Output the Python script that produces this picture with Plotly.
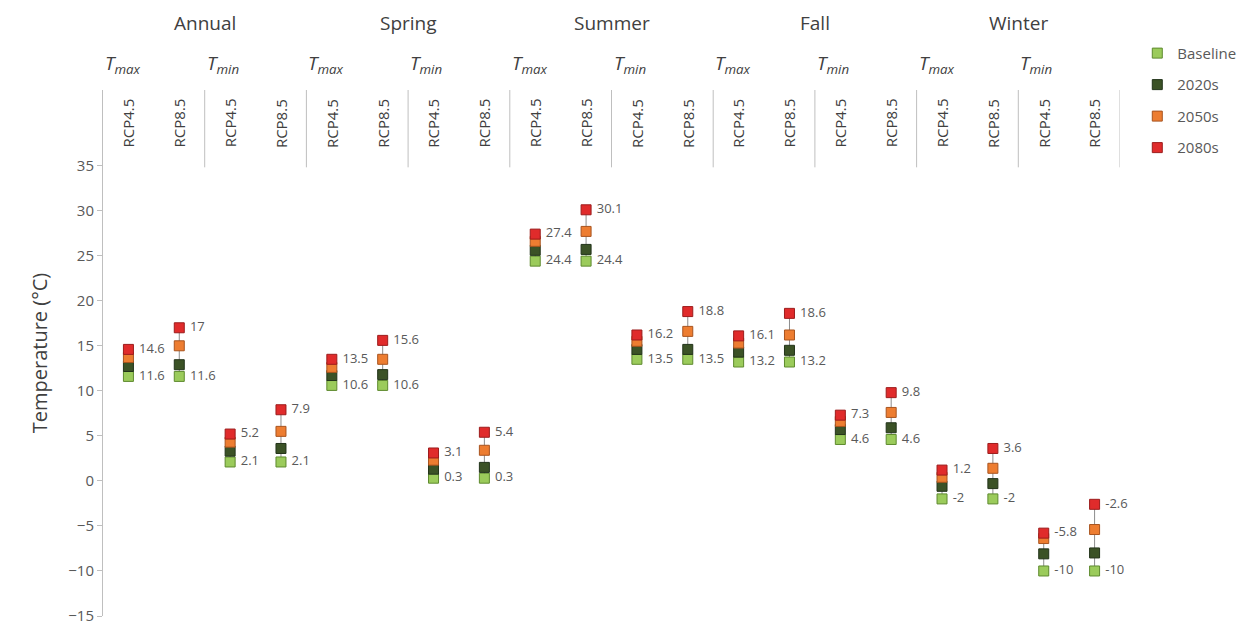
import plotly.graph_objects as go

seasons = ["Annual", "Spring", "Summer", "Fall", "Winter"]
variables = ["<i>T<sub>max</sub></i>", "<i>T<sub>min</sub></i>"]
scenarios = ["RCP4.5", "RCP8.5"]

baseline = [11.6, 11.6, 2.1, 2.1, 10.6, 10.6, 0.3, 0.3, 24.4, 24.4,
            13.5, 13.5, 13.2, 13.2, 4.6, 4.6, -2, -2, -10, -10]
y2020s = [12.7, 12.9, 3.3, 3.6, 11.7, 11.8, 1.3, 1.5, 25.6, 25.7,
          14.6, 14.6, 14.3, 14.5, 5.7, 5.9, -0.6, -0.3, -8.1, -8.0]
y2050s = [13.7, 15.0, 4.3, 5.5, 12.6, 13.5, 2.3, 3.4, 26.6, 27.7,
          15.5, 16.6, 15.3, 16.2, 6.6, 7.6, 0.4, 1.4, -6.4, -5.4]
y2080s = [14.6, 17, 5.2, 7.9, 13.5, 15.6, 3.1, 5.4, 27.4, 30.1,
          16.2, 18.8, 16.1, 18.6, 7.3, 9.8, 1.2, 3.6, -5.8, -2.6]

series_names = ["Baseline", "2020s", "2050s", "2080s"]
fill_colors = ["#9BCB5B", "#3B5226", "#ED7D31", "#E02B2B"]
line_colors = ["#5E8A2E", "#22331A", "#A8541F", "#9C1C1C"]

n = len(baseline)
cols = list(range(n))

def fmt(v):
    return " %g" % v

fig = go.Figure()

# connecting lines
lx, ly = [], []
for i in cols:
    lx += [i, i, None]
    ly += [baseline[i], y2080s[i], None]
fig.add_trace(go.Scatter(x=lx, y=ly, mode="lines",
                         line=dict(color="#8C8C8C", width=1),
                         showlegend=False, hoverinfo="skip"))

all_vals = [baseline, y2020s, y2050s, y2080s]
for k, (name, vals) in enumerate(zip(series_names, all_vals)):
    labeled = k in (0, 3)
    fig.add_trace(go.Scatter(
        x=cols, y=vals, name=name,
        mode="markers+text" if labeled else "markers",
        text=[fmt(v) for v in vals] if labeled else None,
        textposition="middle right",
        textfont=dict(family="Open Sans", size=13, color="#595959"),
        marker=dict(symbol="square", size=10, color=fill_colors[k],
                    line=dict(color=line_colors[k], width=1)),
        legendgroup=name, legendrank=k + 1, cliponaxis=False,
    ))

shapes = []
annotations = []
# separators between variable groups
for g in range(1, n // 2 + 1):
    xs = 2 * g - 0.5
    shapes.append(dict(type="line", xref="x", yref="paper", x0=xs, x1=xs,
                       y0=1.0, y1=0.853, line=dict(color="#BFBFBF", width=1)))

for s, sname in enumerate(seasons):
    annotations.append(dict(x=4 * s + 1.5, y=1.128, xref="x", yref="paper",
                            yanchor="middle",
                            text=sname, showarrow=False,
                            font=dict(family="Open Sans", size=19, color="#404040")))
    for v, vname in enumerate(variables):
        annotations.append(dict(x=4 * s + 2 * v - 0.5, y=1.05, xref="x", yref="paper",
                                xanchor="left", yanchor="middle",
                                text=vname, showarrow=False,
                                font=dict(family="Open Sans", size=19, color="#404040")))
        for r, rname in enumerate(scenarios):
            annotations.append(dict(x=4 * s + 2 * v + r, y=0.937, xref="x", yref="paper",
                                    yanchor="middle",
                                    text=rname, textangle=-90, showarrow=False,
                                    font=dict(family="Open Sans", size=15, color="#404040")))

fig.update_layout(
    width=1250, height=627,
    margin=dict(l=95, r=138, t=82, b=19, autoexpand=False),
    paper_bgcolor="white", plot_bgcolor="white",
    font=dict(family="Open Sans", color="#595959"),
    showlegend=True,
    legend=dict(x=1.017, y=1.101, xanchor="left", yanchor="top",
                font=dict(family="Open Sans", size=15, color="#595959"),
                tracegroupgap=9, itemwidth=30),
    xaxis=dict(range=[-0.5, n - 0.5], showgrid=False, zeroline=False,
               showticklabels=False, ticks="", showline=False, automargin=False),
    yaxis=dict(range=[-15, 43.4], tickvals=list(range(-15, 40, 5)),
               showgrid=False, zeroline=False, showline=True, automargin=False,
               linecolor="#BFBFBF", linewidth=1, ticks="outside",
               ticklen=5, tickcolor="#BFBFBF",
               tickfont=dict(family="Open Sans", size=15, color="#595959"),
               title=dict(text="Temperature (°C)", standoff=15,
                          font=dict(family="Open Sans", size=20, color="#404040"))),
    shapes=shapes, annotations=annotations,
)

fig.write_html("out.html")
